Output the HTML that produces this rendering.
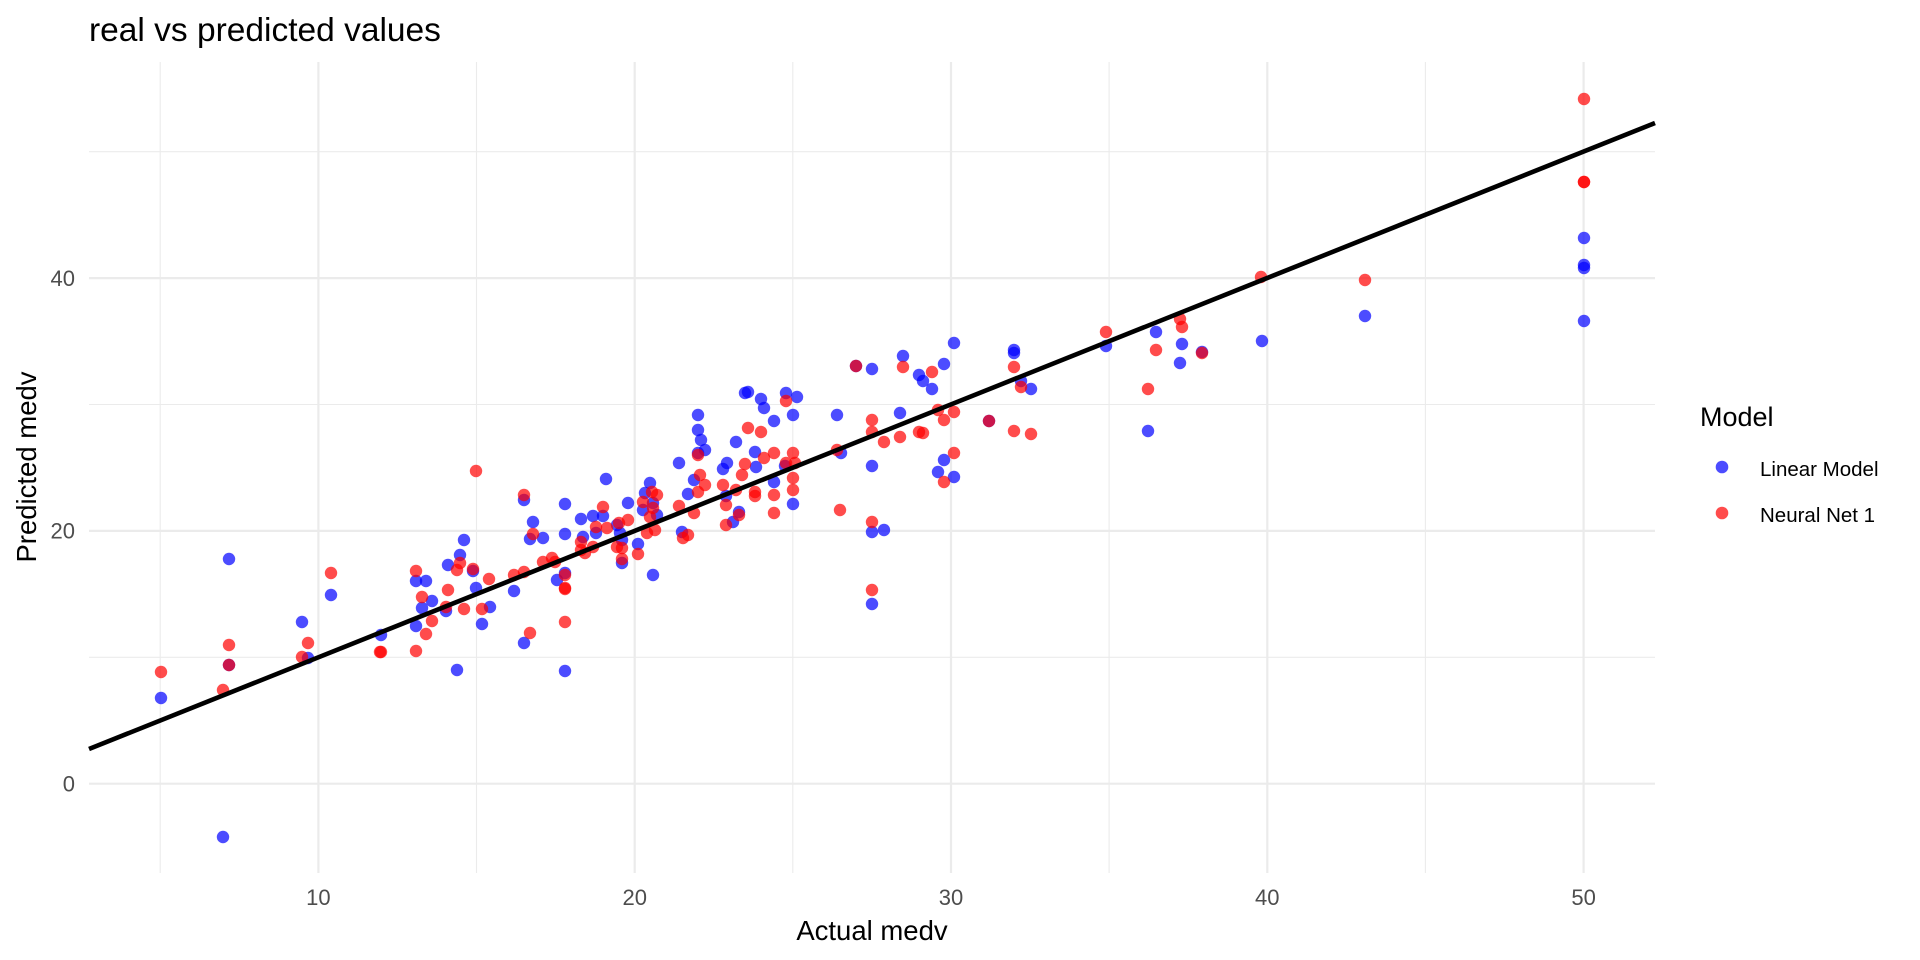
<!DOCTYPE html>
<html><head><meta charset="utf-8"><style>
html,body{margin:0;padding:0;background:#fff}
svg{display:block}
text{font-family:"Liberation Sans",Arial,sans-serif}
</style></head><body>
<svg width="1920" height="960" viewBox="0 0 1920 960" xmlns="http://www.w3.org/2000/svg">
<rect width="1920" height="960" fill="#fff"/>
<g stroke="#ebebeb" stroke-width="1.1">
<line x1="160.2" y1="62" x2="160.2" y2="873"/>
<line x1="476.5" y1="62" x2="476.5" y2="873"/>
<line x1="792.8" y1="62" x2="792.8" y2="873"/>
<line x1="1109.1" y1="62" x2="1109.1" y2="873"/>
<line x1="1425.4" y1="62" x2="1425.4" y2="873"/>
<line x1="89" y1="657.3" x2="1655" y2="657.3"/>
<line x1="89" y1="404.5" x2="1655" y2="404.5"/>
<line x1="89" y1="151.7" x2="1655" y2="151.7"/>
</g>
<g stroke="#ebebeb" stroke-width="2.2">
<line x1="318.4" y1="62" x2="318.4" y2="873"/>
<line x1="634.7" y1="62" x2="634.7" y2="873"/>
<line x1="951" y1="62" x2="951" y2="873"/>
<line x1="1267.3" y1="62" x2="1267.3" y2="873"/>
<line x1="1583.6" y1="62" x2="1583.6" y2="873"/>
<line x1="89" y1="783.7" x2="1655" y2="783.7"/>
<line x1="89" y1="530.9" x2="1655" y2="530.9"/>
<line x1="89" y1="278.1" x2="1655" y2="278.1"/>
</g>
<g fill="#0000ff" fill-opacity="0.7">
<circle cx="381" cy="635" r="6.2"/><circle cx="416" cy="581" r="6.2"/><circle cx="426" cy="581" r="6.2"/><circle cx="422" cy="608" r="6.2"/><circle cx="432" cy="601" r="6.2"/><circle cx="416" cy="626" r="6.2"/><circle cx="446" cy="611" r="6.2"/><circle cx="448" cy="565" r="6.2"/><circle cx="460" cy="555" r="6.2"/><circle cx="464" cy="540" r="6.2"/><circle cx="473" cy="571" r="6.2"/><circle cx="476" cy="588" r="6.2"/><circle cx="482" cy="624" r="6.2"/><circle cx="490" cy="607" r="6.2"/><circle cx="457" cy="670" r="6.2"/><circle cx="514" cy="591" r="6.2"/><circle cx="524" cy="500" r="6.2"/><circle cx="533" cy="522" r="6.2"/><circle cx="530" cy="539" r="6.2"/><circle cx="543" cy="538" r="6.2"/><circle cx="524" cy="643" r="6.2"/><circle cx="565" cy="504" r="6.2"/><circle cx="565" cy="534" r="6.2"/><circle cx="557" cy="580" r="6.2"/><circle cx="565" cy="573" r="6.2"/><circle cx="565" cy="671" r="6.2"/><circle cx="581" cy="519" r="6.2"/><circle cx="583" cy="537" r="6.2"/><circle cx="593" cy="516" r="6.2"/><circle cx="603" cy="516" r="6.2"/><circle cx="606" cy="479" r="6.2"/><circle cx="596" cy="533" r="6.2"/><circle cx="617" cy="525" r="6.2"/><circle cx="620" cy="533" r="6.2"/><circle cx="622" cy="540" r="6.2"/><circle cx="622" cy="563" r="6.2"/><circle cx="628" cy="503" r="6.2"/><circle cx="638" cy="544" r="6.2"/><circle cx="650" cy="483" r="6.2"/><circle cx="645" cy="493" r="6.2"/><circle cx="653" cy="503" r="6.2"/><circle cx="657" cy="515" r="6.2"/><circle cx="643" cy="510" r="6.2"/><circle cx="653" cy="575" r="6.2"/><circle cx="679" cy="463" r="6.2"/><circle cx="688" cy="494" r="6.2"/><circle cx="694" cy="480" r="6.2"/><circle cx="682" cy="532" r="6.2"/><circle cx="698" cy="415" r="6.2"/><circle cx="698" cy="430" r="6.2"/><circle cx="701" cy="440" r="6.2"/><circle cx="705" cy="450" r="6.2"/><circle cx="698" cy="453" r="6.2"/><circle cx="723" cy="469" r="6.2"/><circle cx="727" cy="463" r="6.2"/><circle cx="726" cy="496" r="6.2"/><circle cx="736" cy="442" r="6.2"/><circle cx="739" cy="512" r="6.2"/><circle cx="733" cy="522" r="6.2"/><circle cx="745" cy="393" r="6.2"/><circle cx="748" cy="392" r="6.2"/><circle cx="761" cy="399" r="6.2"/><circle cx="764" cy="408" r="6.2"/><circle cx="774" cy="421" r="6.2"/><circle cx="755" cy="452" r="6.2"/><circle cx="756" cy="467" r="6.2"/><circle cx="774" cy="482" r="6.2"/><circle cx="786" cy="393" r="6.2"/><circle cx="797" cy="397" r="6.2"/><circle cx="793" cy="415" r="6.2"/><circle cx="785" cy="466" r="6.2"/><circle cx="793" cy="504" r="6.2"/>
<circle cx="837" cy="415" r="6.2"/><circle cx="841" cy="453" r="6.2"/><circle cx="872" cy="369" r="6.2"/><circle cx="872" cy="466" r="6.2"/><circle cx="872" cy="532" r="6.2"/><circle cx="884" cy="530" r="6.2"/><circle cx="872" cy="604" r="6.2"/><circle cx="900" cy="413" r="6.2"/><circle cx="903" cy="356" r="6.2"/><circle cx="919" cy="375" r="6.2"/><circle cx="923" cy="381" r="6.2"/><circle cx="932" cy="389" r="6.2"/><circle cx="944" cy="364" r="6.2"/><circle cx="954" cy="343" r="6.2"/><circle cx="944" cy="460" r="6.2"/><circle cx="938" cy="472" r="6.2"/><circle cx="954" cy="477" r="6.2"/><circle cx="1014" cy="350" r="6.2"/><circle cx="1014" cy="353" r="6.2"/><circle cx="1021" cy="381" r="6.2"/><circle cx="1031" cy="389" r="6.2"/><circle cx="856" cy="366" r="6.2"/><circle cx="989" cy="421" r="6.2"/>
<circle cx="1584" cy="238" r="6.2"/><circle cx="1584" cy="265" r="6.2"/><circle cx="1584" cy="268" r="6.2"/><circle cx="1584" cy="321" r="6.2"/><circle cx="1365" cy="316" r="6.2"/><circle cx="1262" cy="341" r="6.2"/><circle cx="1106" cy="346" r="6.2"/><circle cx="1156" cy="332" r="6.2"/><circle cx="1182" cy="344" r="6.2"/><circle cx="1180" cy="363" r="6.2"/><circle cx="1202" cy="352" r="6.2"/><circle cx="1148" cy="431" r="6.2"/>
<circle cx="229" cy="559" r="6.2"/><circle cx="161" cy="698" r="6.2"/><circle cx="223" cy="837" r="6.2"/><circle cx="302" cy="622" r="6.2"/><circle cx="308" cy="658" r="6.2"/><circle cx="331" cy="595" r="6.2"/><circle cx="229" cy="665" r="6.2"/>
</g>
<g fill="#ff0000" fill-opacity="0.7">
<circle cx="381" cy="652" r="6.2"/><circle cx="416" cy="651" r="6.2"/><circle cx="416" cy="571" r="6.2"/><circle cx="422" cy="597" r="6.2"/><circle cx="426" cy="634" r="6.2"/><circle cx="432" cy="621" r="6.2"/><circle cx="446" cy="607" r="6.2"/><circle cx="448" cy="590" r="6.2"/><circle cx="457" cy="570" r="6.2"/><circle cx="460" cy="563" r="6.2"/><circle cx="464" cy="609" r="6.2"/><circle cx="473" cy="569" r="6.2"/><circle cx="482" cy="609" r="6.2"/><circle cx="489" cy="579" r="6.2"/><circle cx="476" cy="471" r="6.2"/><circle cx="514" cy="575" r="6.2"/><circle cx="524" cy="572" r="6.2"/><circle cx="524" cy="495" r="6.2"/><circle cx="533" cy="534" r="6.2"/><circle cx="530" cy="633" r="6.2"/><circle cx="543" cy="562" r="6.2"/><circle cx="552" cy="558" r="6.2"/><circle cx="555" cy="562" r="6.2"/><circle cx="565" cy="575" r="6.2"/><circle cx="565" cy="588" r="6.2"/><circle cx="565" cy="589" r="6.2"/><circle cx="565" cy="622" r="6.2"/><circle cx="581" cy="542" r="6.2"/><circle cx="581" cy="550" r="6.2"/><circle cx="585" cy="553" r="6.2"/><circle cx="593" cy="547" r="6.2"/><circle cx="596" cy="527" r="6.2"/><circle cx="603" cy="507" r="6.2"/><circle cx="607" cy="528" r="6.2"/><circle cx="619" cy="523" r="6.2"/><circle cx="628" cy="520" r="6.2"/><circle cx="617" cy="547" r="6.2"/><circle cx="622" cy="548" r="6.2"/><circle cx="622" cy="559" r="6.2"/><circle cx="638" cy="554" r="6.2"/><circle cx="647" cy="533" r="6.2"/><circle cx="643" cy="502" r="6.2"/><circle cx="652" cy="492" r="6.2"/><circle cx="657" cy="495" r="6.2"/><circle cx="653" cy="508" r="6.2"/><circle cx="650" cy="517" r="6.2"/><circle cx="655" cy="530" r="6.2"/><circle cx="679" cy="506" r="6.2"/><circle cx="683" cy="538" r="6.2"/><circle cx="688" cy="535" r="6.2"/><circle cx="694" cy="513" r="6.2"/><circle cx="698" cy="492" r="6.2"/><circle cx="700" cy="475" r="6.2"/><circle cx="705" cy="485" r="6.2"/><circle cx="698" cy="455" r="6.2"/><circle cx="723" cy="485" r="6.2"/><circle cx="726" cy="505" r="6.2"/><circle cx="726" cy="525" r="6.2"/><circle cx="736" cy="490" r="6.2"/><circle cx="739" cy="515" r="6.2"/><circle cx="742" cy="475" r="6.2"/><circle cx="745" cy="464" r="6.2"/><circle cx="748" cy="428" r="6.2"/><circle cx="761" cy="432" r="6.2"/><circle cx="755" cy="492" r="6.2"/><circle cx="755" cy="496" r="6.2"/><circle cx="764" cy="458" r="6.2"/><circle cx="774" cy="453" r="6.2"/><circle cx="774" cy="495" r="6.2"/><circle cx="774" cy="513" r="6.2"/><circle cx="786" cy="401" r="6.2"/><circle cx="786" cy="463" r="6.2"/><circle cx="793" cy="453" r="6.2"/><circle cx="793" cy="478" r="6.2"/><circle cx="793" cy="490" r="6.2"/><circle cx="795" cy="463" r="6.2"/>
<circle cx="856" cy="366" r="6.2"/><circle cx="837" cy="450" r="6.2"/><circle cx="840" cy="510" r="6.2"/><circle cx="872" cy="420" r="6.2"/><circle cx="872" cy="432" r="6.2"/><circle cx="884" cy="442" r="6.2"/><circle cx="900" cy="437" r="6.2"/><circle cx="903" cy="367" r="6.2"/><circle cx="919" cy="432" r="6.2"/><circle cx="923" cy="433" r="6.2"/><circle cx="932" cy="372" r="6.2"/><circle cx="938" cy="410" r="6.2"/><circle cx="944" cy="420" r="6.2"/><circle cx="954" cy="412" r="6.2"/><circle cx="954" cy="453" r="6.2"/><circle cx="944" cy="482" r="6.2"/><circle cx="872" cy="522" r="6.2"/><circle cx="872" cy="590" r="6.2"/><circle cx="989" cy="421" r="6.2"/><circle cx="1014" cy="367" r="6.2"/><circle cx="1021" cy="387" r="6.2"/><circle cx="1014" cy="431" r="6.2"/><circle cx="1031" cy="434" r="6.2"/>
<circle cx="1584" cy="99" r="6.2"/><circle cx="1584" cy="182" r="6.2"/><circle cx="1584" cy="182" r="6.2"/><circle cx="1261" cy="277" r="6.2"/><circle cx="1365" cy="280" r="6.2"/><circle cx="1106" cy="332" r="6.2"/><circle cx="1156" cy="350" r="6.2"/><circle cx="1148" cy="389" r="6.2"/><circle cx="1180" cy="319" r="6.2"/><circle cx="1182" cy="327" r="6.2"/><circle cx="1202" cy="353" r="6.2"/>
<circle cx="161" cy="672" r="6.2"/><circle cx="229" cy="645" r="6.2"/><circle cx="229" cy="665" r="6.2"/><circle cx="223" cy="690" r="6.2"/><circle cx="308" cy="643" r="6.2"/><circle cx="302" cy="657" r="6.2"/><circle cx="331" cy="573" r="6.2"/><circle cx="380" cy="652" r="6.2"/>
</g>
<line x1="89" y1="749" x2="1655" y2="123" stroke="#000" stroke-width="4.6"/>
<text x="89" y="41" font-size="33.5" fill="#000">real vs predicted values</text>
<g font-size="22" fill="#4d4d4d" text-anchor="middle">
<text x="318.4" y="905">10</text><text x="634.7" y="905">20</text><text x="951" y="905">30</text><text x="1267.3" y="905">40</text><text x="1583.6" y="905">50</text>
</g>
<g font-size="22" fill="#4d4d4d" text-anchor="end">
<text x="75" y="791.5">0</text><text x="75" y="538.7">20</text><text x="75" y="285.9">40</text>
</g>
<text x="872" y="940" font-size="27.5" text-anchor="middle" fill="#000">Actual medv</text>
<text transform="translate(36,467) rotate(-90)" font-size="27.5" text-anchor="middle" fill="#000">Predicted medv</text>
<text x="1700" y="426" font-size="27" fill="#000">Model</text>
<circle cx="1722" cy="467" r="6.3" fill="#0000ff" fill-opacity="0.7"/>
<circle cx="1722" cy="513" r="6.3" fill="#ff0000" fill-opacity="0.7"/>
<text x="1760" y="476" font-size="20.5" fill="#000">Linear Model</text>
<text x="1760" y="522" font-size="20.5" fill="#000">Neural Net 1</text>
</svg>
</body></html>
